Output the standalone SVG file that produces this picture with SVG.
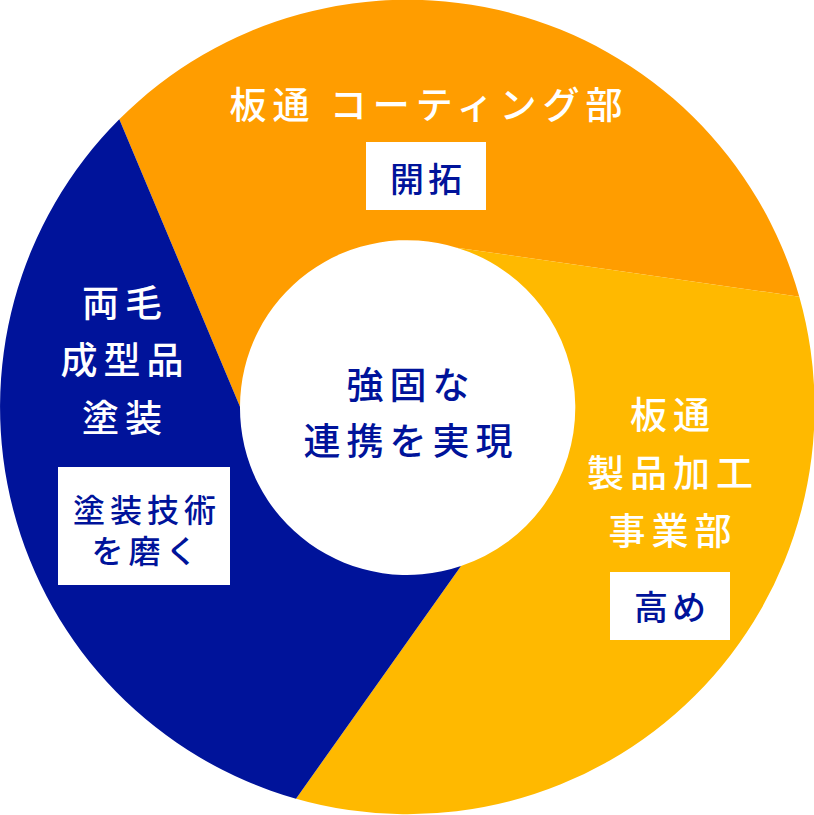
<svg xmlns="http://www.w3.org/2000/svg" width="814" height="815" viewBox="0 0 814 815">
<style>
.lbl{font-family:"Noto Sans CJK JP","Noto Sans",sans-serif;fill:#fff;font-size:37px;letter-spacing:6px;text-anchor:middle;font-weight:500}
.dk{font-family:"Noto Sans CJK JP","Noto Sans",sans-serif;fill:#00139A;font-size:34px;letter-spacing:4px;text-anchor:middle;font-weight:500}
.sm{font-size:32px;letter-spacing:5px}
.box{fill:#fff}
</style>
<rect width="814" height="815" fill="#fff"/>
<g id="connectors"></g>
<g id="seg-coating">
<path d="M119.3,119.3 A407,407 0 0 1 799.3,296.7 L456.7,247.7 A167,167 0 0 0 240,406.7 Z" fill="#FF9D00"/>
<text class="lbl" x="429" y="119">板通 コーティング部</text>
<rect class="box" x="366" y="142" width="120" height="68"/>
<text class="dk" x="428" y="192">開拓</text>
</g>
<g id="seg-product">
<path d="M799.3,296.7 A407,407 0 0 1 296,798.7 L461,566 A167,167 0 0 0 456.7,247.7 Z" fill="#FFB900"/>
<text class="lbl" x="673" y="429">板通</text>
<text class="lbl" x="673" y="487">製品加工</text>
<text class="lbl" x="673" y="545">事業部</text>
<rect class="box" x="610" y="572" width="120" height="68"/>
<text class="dk" x="672" y="620">高め</text>
</g>
<g id="seg-painting">
<path d="M296,798.7 A407,407 0 0 1 119.3,119.3 L240,406.7 A167,167 0 0 0 461,566 Z" fill="#00139A"/>
<text class="lbl" x="125" y="317">両毛</text>
<text class="lbl" x="125" y="374">成型品</text>
<text class="lbl" x="125" y="432">塗装</text>
<rect class="box" x="58" y="467" width="172" height="118"/>
<text class="dk sm"><tspan x="147" y="522">塗装技術</tspan><tspan x="147" y="563">を磨く</tspan></text>
</g>
<g id="center">
<text class="dk" x="411" y="399" style="font-size:37px;letter-spacing:6px">強固な</text>
<text class="dk" x="411" y="455" style="font-size:37px;letter-spacing:6px">連携を実現</text>
</g>
</svg>
